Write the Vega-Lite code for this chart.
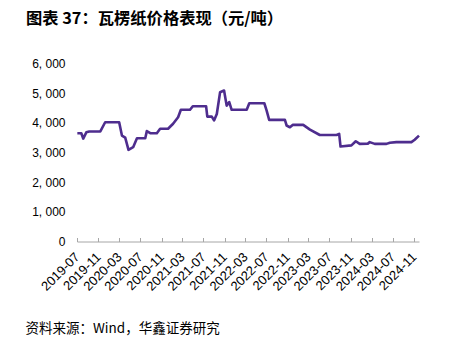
{
  "$schema": "https://vega.github.io/schema/vega-lite/v6.json",
  "autosize": "none",
  "width": 342,
  "height": 178,
  "padding": {"left": 77, "top": 63.5, "right": 42, "bottom": 110.5},
  "background": "white",
  "title": {
    "text": "图表 37：瓦楞纸价格表现（元/吨）",
    "anchor": "start",
    "frame": "group",
    "dx": -51,
    "offset": 30,
    "font": "Noto Sans CJK SC",
    "fontSize": 16.3,
    "fontWeight": "bold",
    "color": "#000000"
  },
  "config": {
    "view": {"stroke": null},
    "axis": {"grid": false}
  },
  "data": {
    "values": [
      {"date": "2019-07-03", "price": 3650},
      {"date": "2019-07-26", "price": 3650},
      {"date": "2019-08-06", "price": 3470},
      {"date": "2019-08-24", "price": 3680},
      {"date": "2019-09-10", "price": 3710},
      {"date": "2019-11-13", "price": 3710},
      {"date": "2019-12-11", "price": 4020},
      {"date": "2020-03-01", "price": 4020},
      {"date": "2020-03-17", "price": 3570},
      {"date": "2020-04-05", "price": 3500},
      {"date": "2020-04-24", "price": 3090},
      {"date": "2020-05-21", "price": 3180},
      {"date": "2020-06-12", "price": 3480},
      {"date": "2020-07-30", "price": 3480},
      {"date": "2020-08-08", "price": 3720},
      {"date": "2020-08-28", "price": 3650},
      {"date": "2020-10-05", "price": 3650},
      {"date": "2020-10-24", "price": 3800},
      {"date": "2020-12-09", "price": 3800},
      {"date": "2021-01-07", "price": 3970},
      {"date": "2021-02-05", "price": 4190},
      {"date": "2021-02-21", "price": 4440},
      {"date": "2021-04-15", "price": 4440},
      {"date": "2021-05-01", "price": 4560},
      {"date": "2021-07-17", "price": 4560},
      {"date": "2021-07-24", "price": 4210},
      {"date": "2021-08-19", "price": 4210},
      {"date": "2021-09-01", "price": 4080},
      {"date": "2021-09-17", "price": 4300},
      {"date": "2021-10-06", "price": 5030},
      {"date": "2021-10-29", "price": 5090},
      {"date": "2021-11-13", "price": 4580},
      {"date": "2021-11-28", "price": 4700},
      {"date": "2021-12-12", "price": 4440},
      {"date": "2022-03-09", "price": 4440},
      {"date": "2022-03-24", "price": 4660},
      {"date": "2022-06-19", "price": 4660},
      {"date": "2022-07-02", "price": 4420},
      {"date": "2022-07-17", "price": 4100},
      {"date": "2022-10-16", "price": 4100},
      {"date": "2022-10-26", "price": 3910},
      {"date": "2022-11-14", "price": 3850},
      {"date": "2022-11-30", "price": 3930},
      {"date": "2023-01-30", "price": 3930},
      {"date": "2023-03-10", "price": 3770},
      {"date": "2023-05-06", "price": 3590},
      {"date": "2023-08-11", "price": 3590},
      {"date": "2023-08-26", "price": 3630},
      {"date": "2023-09-03", "price": 3200},
      {"date": "2023-11-05", "price": 3240},
      {"date": "2023-11-30", "price": 3380},
      {"date": "2023-12-23", "price": 3290},
      {"date": "2024-02-08", "price": 3300},
      {"date": "2024-02-19", "price": 3350},
      {"date": "2024-03-19", "price": 3290},
      {"date": "2024-05-26", "price": 3290},
      {"date": "2024-06-14", "price": 3330},
      {"date": "2024-07-22", "price": 3350},
      {"date": "2024-10-17", "price": 3350},
      {"date": "2024-11-05", "price": 3430},
      {"date": "2024-11-30", "price": 3570}
    ]
  },
  "mark": {"type": "line", "color": "#4E2D8E", "strokeWidth": 2.6, "strokeJoin": "round", "clip": false},
  "encoding": {
    "x": {
      "field": "date",
      "type": "temporal",
      "scale": {"type": "utc", "domain": [{"year": 2019, "month": 7, "date": 1, "utc": true}, {"year": 2024, "month": 11, "date": 30, "utc": true}]},
      "axis": {
        "values": [
          {"year": 2019, "month": 7, "date": 1, "utc": true},
          {"year": 2019, "month": 11, "date": 1, "utc": true},
          {"year": 2020, "month": 3, "date": 1, "utc": true},
          {"year": 2020, "month": 7, "date": 1, "utc": true},
          {"year": 2020, "month": 11, "date": 1, "utc": true},
          {"year": 2021, "month": 3, "date": 1, "utc": true},
          {"year": 2021, "month": 7, "date": 1, "utc": true},
          {"year": 2021, "month": 11, "date": 1, "utc": true},
          {"year": 2022, "month": 3, "date": 1, "utc": true},
          {"year": 2022, "month": 7, "date": 1, "utc": true},
          {"year": 2022, "month": 11, "date": 1, "utc": true},
          {"year": 2023, "month": 3, "date": 1, "utc": true},
          {"year": 2023, "month": 7, "date": 1, "utc": true},
          {"year": 2023, "month": 11, "date": 1, "utc": true},
          {"year": 2024, "month": 3, "date": 1, "utc": true},
          {"year": 2024, "month": 7, "date": 1, "utc": true},
          {"year": 2024, "month": 11, "date": 1, "utc": true}
        ],
        "labelExpr": "utcFormat(datum.value, '%Y-%m')",
        "labelAngle": -45,
        "labelAlign": "right",
        "labelBaseline": "middle",
        "labelFont": "Liberation Sans",
        "labelFontSize": 13,
        "labelColor": "#000000",
        "labelPadding": 17,
        "labelOverlap": false,
        "labelFlush": false,
        "domainColor": "#a6a6a6",
        "tickColor": "#a6a6a6",
        "tickSize": -4,
        "title": "资料来源：Wind，华鑫证券研究",
        "titleFont": "Noto Sans CJK SC",
        "titleFontSize": 13.5,
        "titleFontWeight": "normal",
        "titleColor": "#000000",
        "titleAnchor": "start",
        "titleAlign": "left",
        "titleBaseline": "middle",
        "titleX": -52,
        "titleY": 87
      }
    },
    "y": {
      "field": "price",
      "type": "quantitative",
      "scale": {"domain": [0, 6000], "nice": false},
      "axis": {
        "values": [0, 1000, 2000, 3000, 4000, 5000, 6000],
        "labelExpr": "replace(format(datum.value, ','), ',', ', ')",
        "labelFont": "Liberation Sans",
        "labelFontSize": 12,
        "labelColor": "#000000",
        "labelPadding": 12,
        "ticks": false,
        "domain": false,
        "title": null
      }
    }
  }
}
